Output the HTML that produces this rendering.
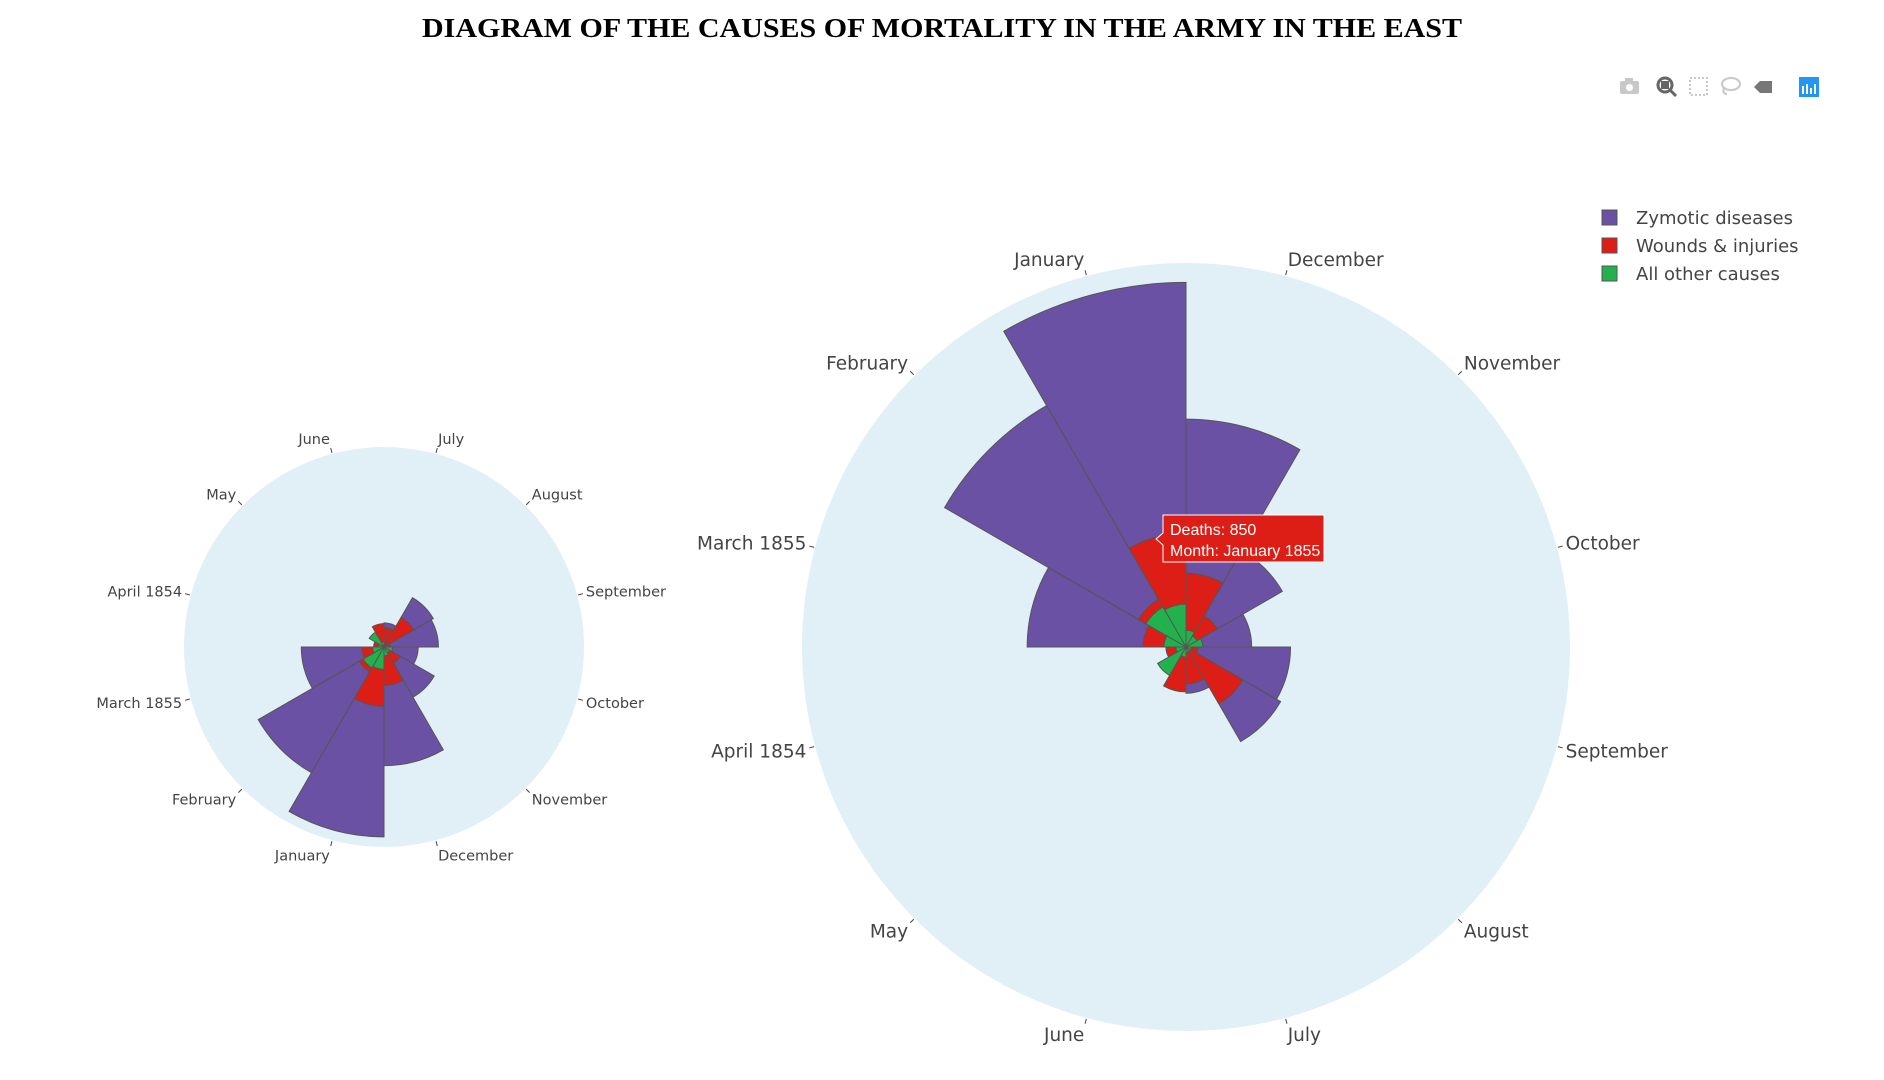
<!DOCTYPE html>
<html><head><meta charset="utf-8">
<style>
html,body{margin:0;padding:0;background:#fff;}
svg{display:block;}
</style></head>
<body>
<svg id="chart" width="1884" height="1080" viewBox="0 0 1884 1080" xmlns="http://www.w3.org/2000/svg">
  <text x="942" y="37" text-anchor="middle" font-family="'Liberation Serif', serif" font-weight="bold" font-size="27" textLength="1040" lengthAdjust="spacingAndGlyphs" fill="#000">DIAGRAM OF THE CAUSES OF MORTALITY IN THE ARMY IN THE EAST</text>

  <g>
    <g><rect x="1620" y="81" width="19" height="13" rx="2" fill="#c8c8c8"/><rect x="1625" y="78" width="8" height="4" fill="#c8c8c8"/><circle cx="1629.5" cy="87.5" r="3.5" fill="#fff"/></g>
    <g><circle cx="1665" cy="85" r="7" fill="none" stroke="#666" stroke-width="3"/><rect x="1661" y="81" width="8" height="8" fill="#666"/><line x1="1670" y1="90" x2="1676" y2="96" stroke="#666" stroke-width="3"/></g>
    <rect x="1690" y="78" width="17" height="17" fill="none" stroke="#c8c8c8" stroke-width="2" stroke-dasharray="2,2"/>
    <g><ellipse cx="1731" cy="84" rx="9" ry="6" fill="none" stroke="#c8c8c8" stroke-width="2"/><path d="M1724 88 q-2 6 3 6" fill="none" stroke="#c8c8c8" stroke-width="2"/></g>
    <path d="M1754 87 l6 -6 h12 v12 h-12 z" fill="#777"/>
    <g><rect x="1799" y="77" width="20" height="20" fill="#2196f3"/><g fill="#fff"><rect x="1802" y="86" width="2" height="8"/><rect x="1806" y="84" width="2" height="10"/><rect x="1810" y="88" width="2" height="6"/><rect x="1814" y="84" width="2" height="10"/></g></g>
  </g>

  <g id="small-chart"></g>
  <g id="big-chart"></g>

  <g font-family="'DejaVu Sans', 'Liberation Sans', sans-serif" font-size="18" fill="#444">
    <g><rect x="1602" y="210" width="15" height="15" fill="#6a51a3" stroke="#555" stroke-width="1"/><text x="1636" y="224">Zymotic diseases</text></g>
    <g><rect x="1602" y="238" width="15" height="15" fill="#dd1e16" stroke="#555" stroke-width="1"/><text x="1636" y="252">Wounds &amp; injuries</text></g>
    <g><rect x="1602" y="266" width="15" height="15" fill="#22b14c" stroke="#555" stroke-width="1"/><text x="1636" y="280">All other causes</text></g>
  </g>

  <g>
    <path d="M1163 515 H1324 V562 H1163 V545 L1156 539 L1163 533 Z" fill="#dd1e16" stroke="#fff" stroke-width="1"/>
    <text x="1170" y="535" font-family="'Liberation Sans', sans-serif" font-size="16" fill="#fff">Deaths: 850</text>
    <text x="1170" y="556" font-family="'Liberation Sans', sans-serif" font-size="16" fill="#fff">Month: January 1855</text>
  </g>
</svg>
<script>
const months = ['April 1854','May','June','July','August','September','October','November','December','January','February','March 1855'];
const zymotic = [60,60,150,345,815,780,490,830,1700,2720,2080,1185];
const wounds = [150,150,335,275,490,90,75,270,550,850,410,320];
const other = [75,245,75,40,40,40,125,95,125,320,345,165];
const radialMax = 2865;

const NS = 'http://www.w3.org/2000/svg';
function mk(tag, attrs, parent){
  const e = document.createElementNS(NS, tag);
  for (const k in attrs) e.setAttribute(k, attrs[k]);
  parent.appendChild(e);
  return e;
}
function drawRose(g, cx, cy, R, startDeg, dir, fontSize){
  const rScale = v => v / radialMax * R;
  const ang = i => startDeg + dir * 30 * i;
  const pt = (deg, r) => [cx + r * Math.cos(deg*Math.PI/180), cy - r * Math.sin(deg*Math.PI/180)];
  const bg = mk('circle', {cx:cx, cy:cy, r:R, fill:'#e1f0f7'}, g);
  
  
  const series = [[zymotic,'#6a51a3','zymotic'],[wounds,'#dd1e16','wounds'],[other,'#22b14c','other']];
  series.forEach(([vals, col, nm]) => {
    vals.forEach((v, i) => {
      const r = rScale(v);
      const a1 = ang(i) - 15, a2 = ang(i) + 15;
      const p1 = pt(a1, r), p2 = pt(a2, r);
      const d = `M${cx} ${cy} L${p1[0]} ${p1[1]} A${r} ${r} 0 0 0 ${p2[0]} ${p2[1]} Z`;
      const path = mk('path', {d:d, fill:col, stroke:'#555', 'stroke-width':1}, g);
      
      
    });
  });
  months.forEach((m, i) => {
    const a = ang(i);
    const t1 = pt(a, R + 1), t2 = pt(a, R + 6);
    const tk = mk('line', {x1:t1[0], y1:t1[1], x2:t2[0], y2:t2[1], stroke:'#444', 'stroke-width':1}, g);
    
    
    const c = Math.cos(a*Math.PI/180), s = Math.sin(a*Math.PI/180);
    const lp = pt(a, R + 9);
    const anchor = c > 0.05 ? 'start' : (c < -0.05 ? 'end' : 'middle');
    const dy = (0.35 - s * 0.45) * fontSize;
    const tx = mk('text', {x:lp[0], y:lp[1] + dy, 'text-anchor':anchor, 'font-family':"'DejaVu Sans','Liberation Sans',sans-serif", 'font-size':fontSize, fill:'#444'}, g);
    tx.textContent = m;
    
    
  });
}
drawRose(document.getElementById('small-chart'), 384, 647, 200, 165, -1, 14.5);
drawRose(document.getElementById('big-chart'), 1186, 647, 384, 195, 1, 18.5);
</script>
</body></html>
